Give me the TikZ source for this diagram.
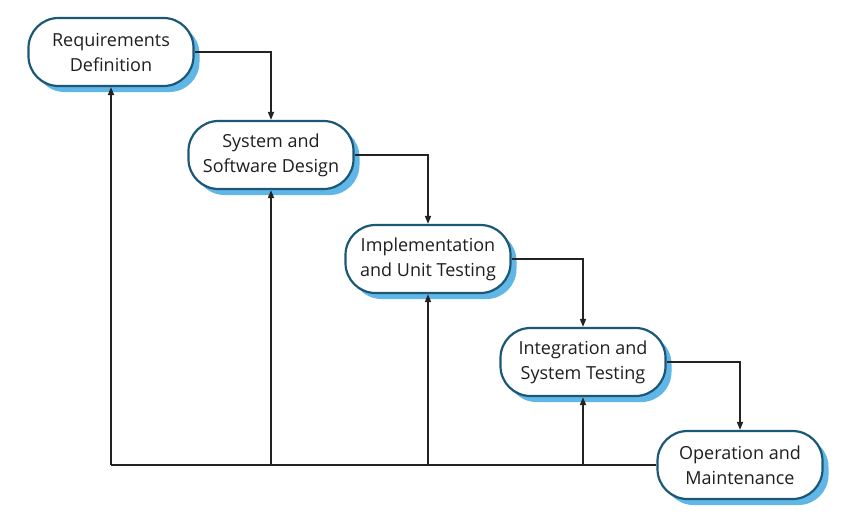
\documentclass[tikz,border=0pt]{standalone}
\usepackage{fontspec}
\setmainfont{Open Sans}
\usepackage{tikz}
\usetikzlibrary{arrows.meta,positioning,calc,shadows}
\definecolor{phaseline}{RGB}{28,88,118}
\definecolor{phaseshadow}{RGB}{96,182,230}
\definecolor{flowline}{RGB}{35,35,35}
\tikzset{
  phasebox/.style={draw=phaseline, line width=2.2pt, fill=white, rounded corners=30pt, minimum width=165pt, minimum height=68pt, inner sep=2pt, align=center, font=\fontsize{18}{25}\selectfont, text=black!88, drop shadow={shadow xshift=6pt, shadow yshift=-6pt, fill=phaseshadow, opacity=1}},
  line/.style={-{Triangle[length=8pt,width=6pt]}, draw=flowline, line width=1.6pt},
  plainline/.style={draw=flowline, line width=1.6pt}
}
\begin{document}
\begin{tikzpicture}[x=1pt,y=-1pt]
  \useasboundingbox (0,0) rectangle (850,523);
  \node[phasebox] (req) at (111,52) {Requirements\\Definition};
  \node[phasebox] (design) at (271,155) {System and\\Software Design};
  \node[phasebox] (impl) at (428,259) {Implementation\\and Unit Testing};
  \node[phasebox] (integ) at (583,362) {Integration and\\System Testing};
  \node[phasebox] (maint) at (740,465) {Operation and\\Maintenance};
  % forward flow
  \draw[line] (req.east) -| (design.north);
  \draw[line] (design.east) -| (impl.north);
  \draw[line] (impl.east) -| (integ.north);
  \draw[line] (integ.east) -| (maint.north);
  % feedback
  \coordinate (fbreq) at (req.south |- maint.west);
  \coordinate (fbdesign) at (design.south |- maint.west);
  \coordinate (fbimpl) at (impl.south |- maint.west);
  \coordinate (fbinteg) at (integ.south |- maint.west);
  \draw[plainline] (maint.west) -- (fbreq);
  \draw[line] (fbreq) -- (req.south);
  \draw[line] (fbdesign) -- (design.south);
  \draw[line] (fbimpl) -- (impl.south);
  \draw[line] (fbinteg) -- (integ.south);
\end{tikzpicture}
\end{document}
